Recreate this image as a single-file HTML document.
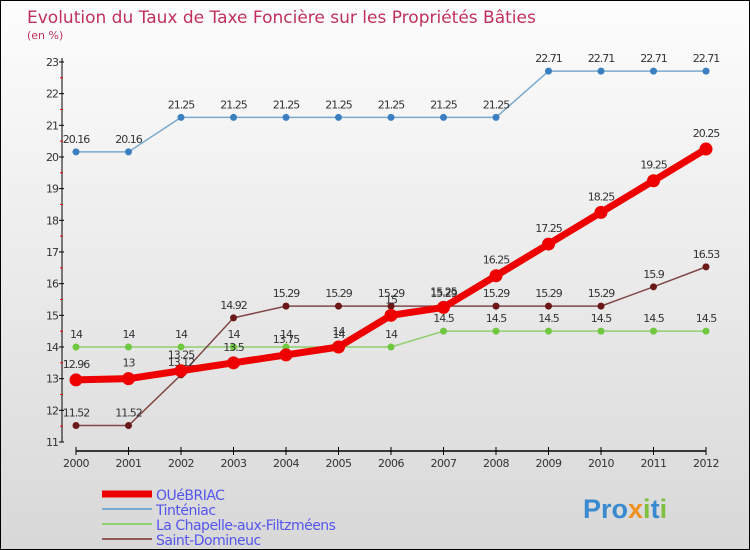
<!DOCTYPE html>
<html><head><meta charset="utf-8"><style>
body{margin:0;}
#c{width:750px;height:550px;position:relative;box-sizing:border-box;border:1px solid #000;background:linear-gradient(#fdfdfd,#d8d8d8);font-family:"DejaVu Sans","Liberation Sans",sans-serif;overflow:hidden}
</style></head><body>
<div id="c">
<svg width="750" height="550" id="s" style="position:absolute;left:0;top:0"></svg>
</div>
<script>
const years=[2000,2001,2002,2003,2004,2005,2006,2007,2008,2009,2010,2011,2012];
const quebriac=[12.96,13,13.25,13.5,13.75,14,15,15.25,16.25,17.25,18.25,19.25,20.25];
const tinteniac=[20.16,20.16,21.25,21.25,21.25,21.25,21.25,21.25,21.25,22.71,22.71,22.71,22.71];
const chapelle=[14,14,14,14,14,14,14,14.5,14.5,14.5,14.5,14.5,14.5];
const domineuc=[11.52,11.52,13.12,14.92,15.29,15.29,15.29,15.29,15.29,15.29,15.29,15.9,16.53];
const yTicks=[11,12,13,14,15,16,17,18,19,20,21,22,23];
const seriesNames=["OUéBRIAC","Tinténiac","La Chapelle-aux-Filtzméens","Saint-Domineuc"];
const NS="http://www.w3.org/2000/svg",s=document.getElementById('s');
const X=i=>75+i*52.5, Y=v=>441-(v-11)*31.67;
function el(t,a,p){const e=document.createElementNS(NS,t);for(const k in a)e.setAttribute(k,a[k]);(p||s).appendChild(e);return e;}
function tx(x,y,str,a){const e=el('text',Object.assign({x:x,y:y},a));e.textContent=str;return e;}
let t=tx(26,22,"Evolution du Taux de Taxe Foncière sur les Propriétés Bâties",{fill:"#c0305a","font-size":"17"});

t=tx(26,38,"(en %)",{fill:"#c0305a","font-size":"11"});

// axes
let a=el('line',{x1:61,y1:57,x2:61,y2:441,stroke:"#000","stroke-width":1});

a=el('line',{x1:75,y1:450,x2:705,y2:450,stroke:"#000","stroke-width":1.5});

yTicks.forEach((v,i)=>{
 el('line',{x1:58,y1:Y(v),x2:63,y2:Y(v),stroke:"#000"});
 if(i<yTicks.length-1) el('line',{x1:59,y1:Y(v+0.5),x2:62,y2:Y(v+0.5),stroke:"#e00"});
 const l=tx(57,Y(v)+4,String(v),{fill:"#333","font-size":"11","text-anchor":"end","letter-spacing":"-1"});
 
});
years.forEach((y,i)=>{
 el('line',{x1:X(i),y1:446,x2:X(i),y2:454,stroke:"#000"});
 const l=tx(X(i),466,String(y),{fill:"#333","font-size":"11","text-anchor":"middle","letter-spacing":"-0.5"});
 
});
function series(data,color,w,r,dot,name,off){
 const g=el('g',{});
 
 el('polyline',{points:data.map((v,i)=>X(i)+","+Y(v)).join(" "),fill:"none",stroke:color,"stroke-width":w,"stroke-linejoin":"round"},g);
 data.forEach((v,i)=>{
  const c=el('circle',{cx:X(i),cy:Y(v),r:r,fill:dot},g);
  
  tx(X(i),Y(v)-(off||9),String(v),{fill:"#333","font-size":"11","text-anchor":"middle","letter-spacing":"-1"},g);
 });
}
series(tinteniac,"#7aaad0",1.5,3.5,"#3a80c0","series-tinteniac");
series(chapelle,"#90d070",1.5,3.5,"#70c840","series-chapelle");
series(domineuc,"#804848",1.5,3.5,"#6a1818","series-domineuc");
series(quebriac,"#ee0000",7,6.5,"#ee0000","series-quebriac",12);
const colors=["#ee0000","#7aaad0","#90d070","#905858"],widths=[7,2,2,2];
seriesNames.forEach((n,i)=>{
 const g=el('g',{});
 const y=493+i*15;
 el('line',{x1:101,y1:y,x2:151,y2:y,stroke:colors[i],"stroke-width":widths[i]},g);
 tx(155,y+6,n,{fill:"#5555ee","font-size":"14","letter-spacing":"-0.5"},g);
});
const lg=el('g',{});
const lt=el('text',{x:582,y:517,"font-size":"27","font-weight":"bold","font-family":"Liberation Sans,sans-serif"},lg);
[["Pro","#3a8ad0"],["x","#f09020"],["i","#80c040"],["t","#3a8ad0"],["i","#80c040"]].forEach(p=>{const ts=el('tspan',{fill:p[1]},lt);ts.textContent=p[0];});
</script>
</body></html>
